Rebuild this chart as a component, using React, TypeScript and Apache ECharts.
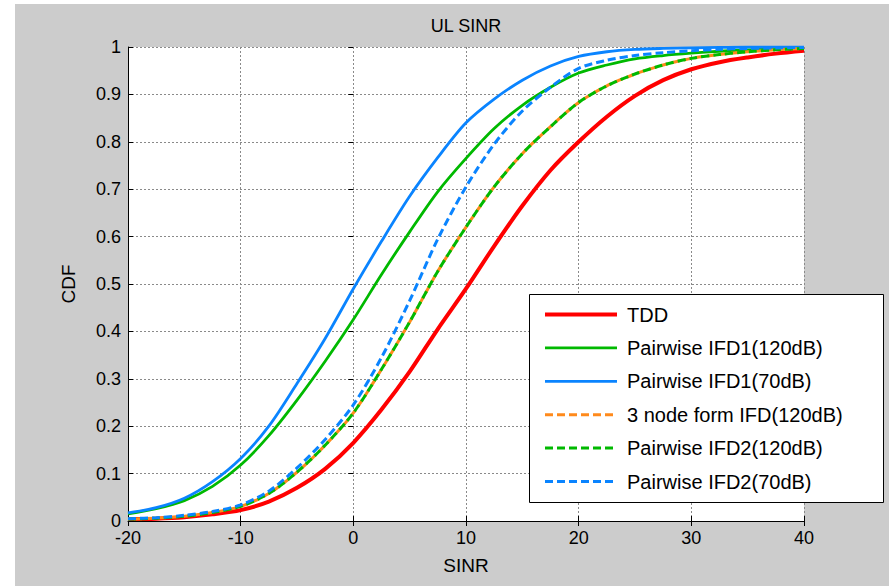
import React, { useEffect, useRef } from "react";
import * as echarts from "echarts";

// SINR sample points (dB)
const sinrX = [-20, -17.5, -15, -12.5, -10, -7.5, -5, -2.5, 0, 2.5, 5, 7.5, 10, 12.5, 15, 17.5, 20, 22.5, 25, 27.5, 30, 32.5, 35, 37.5, 40];

// CDF values of each scheme at the SINR points above
const tdd = [0.004, 0.005, 0.008, 0.014, 0.023, 0.041, 0.07, 0.11, 0.165, 0.235, 0.315, 0.405, 0.49, 0.58, 0.665, 0.74, 0.8, 0.853, 0.897, 0.93, 0.953, 0.968, 0.978, 0.986, 0.992];
const ifd1_120 = [0.015, 0.026, 0.043, 0.073, 0.118, 0.18, 0.255, 0.337, 0.425, 0.52, 0.61, 0.695, 0.765, 0.828, 0.877, 0.915, 0.945, 0.962, 0.975, 0.982, 0.987, 0.991, 0.994, 0.996, 0.998];
const ifd1_70 = [0.017, 0.028, 0.048, 0.083, 0.132, 0.2, 0.29, 0.385, 0.49, 0.59, 0.685, 0.767, 0.84, 0.89, 0.93, 0.96, 0.98, 0.99, 0.995, 0.997, 0.998, 0.999, 1, 1, 1];
const node3_120 = [0.004, 0.006, 0.01, 0.018, 0.031, 0.058, 0.103, 0.16, 0.228, 0.32, 0.42, 0.527, 0.62, 0.705, 0.775, 0.832, 0.883, 0.918, 0.943, 0.962, 0.976, 0.984, 0.99, 0.994, 0.997];
const ifd2_120 = [0.004, 0.006, 0.01, 0.018, 0.031, 0.058, 0.103, 0.16, 0.228, 0.32, 0.42, 0.527, 0.62, 0.705, 0.775, 0.832, 0.883, 0.918, 0.943, 0.962, 0.976, 0.984, 0.99, 0.994, 0.997];
const ifd2_70 = [0.005, 0.007, 0.012, 0.02, 0.034, 0.063, 0.112, 0.172, 0.245, 0.345, 0.465, 0.595, 0.705, 0.795, 0.865, 0.915, 0.955, 0.972, 0.982, 0.988, 0.992, 0.995, 0.997, 0.998, 0.999];

const seriesNames = [
  "TDD",
  "Pairwise IFD1(120dB)",
  "Pairwise IFD1(70dB)",
  "3 node form IFD(120dB)",
  "Pairwise IFD2(120dB)",
  "Pairwise IFD2(70dB)",
];

const FONT = "Liberation Sans, Arial, sans-serif";
const RED = "#ff0000";
const GREEN = "#00b900";
const BLUE = "#0a84ff";
const ORANGE = "#ff8a1c";

// line width per series, in legend order
const lineWidths = [4, 2.8, 2.8, 3, 3, 3];

const pairs = (ys: number[]) => sinrX.map((x, i) => [x, ys[i]]);

export default function App() {
  const ref = useRef<HTMLDivElement>(null);

  useEffect(() => {
    if (!ref.current) return;
    const chart = echarts.init(ref.current, undefined, { renderer: "svg" });

    const line = (
      idx: number,
      ys: number[],
      color: string,
      type: any,
      dashOffset = 0
    ) => ({
      name: seriesNames[idx],
      type: "line",
      data: pairs(ys),
      showSymbol: false,
      symbol: "none",
      smooth: 0.3,
      lineStyle: { color, width: lineWidths[idx], type, dashOffset, cap: "butt" },
      itemStyle: { color },
      z: 2,
    });

    const gridLine = { show: true, lineStyle: { color: "#8a8a8a", type: [2, 2], width: 1 } };
    const tick = { show: true, inside: true, length: 5, lineStyle: { color: "#000", width: 1 } };

    chart.setOption({
      animation: false,
      backgroundColor: "#ffffff",
      title: {
        text: "UL SINR",
        left: 466,
        top: 17,
        textAlign: "center",
        padding: 0,
        textStyle: { fontFamily: FONT, fontSize: 18, fontWeight: "normal", color: "#000" },
      },
      graphic: [
        {
          type: "rect",
          z: -10,
          shape: { x: 15, y: 4, width: 874, height: 582 },
          style: { fill: "#cccccc" },
          silent: true,
        },
        {
          type: "rect",
          z: 15,
          shape: { x: 529.5, y: 294.5, width: 354, height: 208 },
          style: { fill: "#ffffff", stroke: "#000", lineWidth: 1 },
          silent: true,
        },
      ],
      legend: {
        orient: "vertical",
        left: 543,
        top: 304,
        z: 20,
        padding: 0,
        itemWidth: 72,
        itemHeight: 14,
        itemGap: 12.4,
        selectedMode: false,
        data: seriesNames.map((name, i) => ({
          name,
          lineStyle: { dashOffset: 0, width: lineWidths[i] },
        })),
        itemStyle: { opacity: 0 },
        textStyle: { fontFamily: FONT, fontSize: 20, color: "#000", lineHeight: 21, padding: [0, 0, 0, 5] },
      },
      grid: {
        left: 128,
        top: 47,
        width: 676,
        height: 474,
        show: true,
        backgroundColor: "#ffffff",
        borderWidth: 0,
      },
      xAxis: [
        {
          type: "value",
          min: -20,
          max: 40,
          interval: 10,
          position: "bottom",
          name: "SINR",
          nameLocation: "middle",
          nameGap: 35,
          nameTextStyle: { fontFamily: FONT, fontSize: 19, color: "#000" },
          axisLine: { show: true, onZero: false, lineStyle: { color: "#000", width: 1 } },
          axisTick: tick,
          axisLabel: { fontFamily: FONT, fontSize: 18, color: "#000", margin: 8 },
          splitLine: gridLine,
        },
        {
          type: "value",
          min: -20,
          max: 40,
          interval: 10,
          position: "top",
          axisLine: { show: false },
          axisTick: tick,
          axisLabel: { show: false },
          splitLine: { show: false },
        },
      ],
      yAxis: [
        {
          type: "value",
          min: 0,
          max: 1,
          interval: 0.1,
          position: "left",
          name: "CDF",
          nameLocation: "middle",
          nameGap: 50,
          nameRotate: 90,
          nameTextStyle: { fontFamily: FONT, fontSize: 19, color: "#000" },
          axisLine: { show: true, onZero: false, lineStyle: { color: "#000", width: 1 } },
          axisTick: tick,
          axisLabel: { fontFamily: FONT, fontSize: 18, color: "#000", margin: 7 },
          splitLine: gridLine,
        },
        {
          type: "value",
          min: 0,
          max: 1,
          interval: 0.1,
          position: "right",
          axisLine: { show: false },
          axisTick: tick,
          axisLabel: { show: false },
          splitLine: { show: false },
        },
      ],
      series: [
        line(0, tdd, RED, "solid"),
        line(1, ifd1_120, GREEN, "solid"),
        line(2, ifd1_70, BLUE, "solid"),
        line(3, node3_120, ORANGE, [8, 4], 6),
        line(4, ifd2_120, GREEN, [8, 4]),
        line(5, ifd2_70, BLUE, [8, 4]),
      ],
    });

    return () => chart.dispose();
  }, []);

  return (
    <div
      ref={ref}
      style={{ position: "fixed", left: 0, top: 0, width: 889, height: 586 }}
    />
  );
}
